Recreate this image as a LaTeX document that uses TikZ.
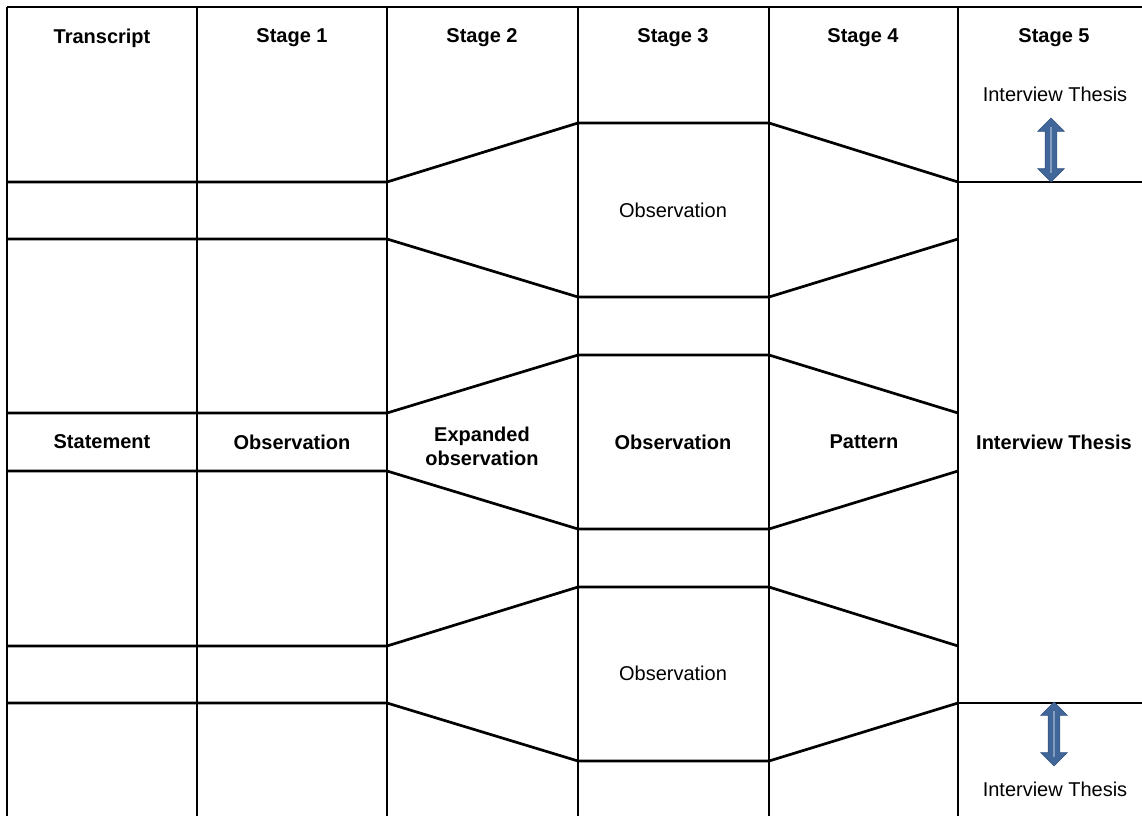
\documentclass[tikz,border=0pt]{standalone}
\usepackage{fontspec}
\setmainfont{Liberation Sans}
\usepackage{tikz}
\usetikzlibrary{shapes.arrows}
\usepackage{xcolor}
\definecolor{arrowblue}{RGB}{65,103,154}
\definecolor{arrowedge}{RGB}{52,84,128}

\begin{document}
\begin{tikzpicture}[x=1pt, y=-1pt, line width=2.7pt,
	head/.style = {font=\bfseries\fontsize{20}{24}\selectfont},
	txt/.style = {font=\fontsize{20}{24}\selectfont},
	updown/.style = {double arrow, rotate=90, fill=arrowblue, draw=arrowedge, line width=0.6pt,
		minimum height=64pt, inner xsep=0pt, inner ysep=5.5pt, double arrow head extend=7.5pt}]
	\useasboundingbox (0,0) rectangle (1142,816);
	% frame
	\draw[-] (7,7) -- (1142,7);
	\foreach \x in {7,197,387,578,769,958}
		\draw[-] (\x,7) -- (\x,816);
	% rows and slants
	\foreach \a/\b in {182/123, 239/297, 413/355, 471/529, 646/587, 703/761}
		\draw[-] (7,\a) -- (387,\a) -- (578,\b) -- (769,\b) -- (958,\a);
	\draw[-] (958,182) -- (1142,182);
	\draw[-] (958,703) -- (1142,703);
	% headers
	\node[head] (h0) at (102,38) {Transcript};
	\node[head] (h1) at (292,38) {Stage 1};
	\node[head] (h2) at (482,38) {Stage 2};
	\node[head] (h3) at (673,38) {Stage 3};
	\node[head] (h4) at (863,38) {Stage 4};
	\node[head] (h5) at (1054,38) {Stage 5};
	% middle row
	\node[head] (s0) at (102,442) {Statement};
	\node[head] (s1) at (292,442) {Observation};
	\node[head, align=center] (s2) at (482,446) {Expanded\\observation};
	\node[head] (s3) at (673,442) {Observation};
	\node[head] (s4) at (864,442) {Pattern};
	\node[head] (s5) at (1054,442) {Interview Thesis};
	% other observations
	\node[txt] (o1) at (673,210) {Observation};
	\node[txt] (o2) at (673,673) {Observation};
	\node[txt] (t1) at (1055,94) {Interview Thesis};
	\node[txt] (t2) at (1055,789) {Interview Thesis};
	% arrows
	\node[updown] (a1) at (1051,150) {};
	\node[updown] (a2) at (1054,734) {};
	\draw[white!35!arrowblue, line width=1.2pt, shorten <=9pt, shorten >=9pt] (a1.tip 1) -- (a1.tip 2);
	\draw[white!35!arrowblue, line width=1.2pt, shorten <=9pt, shorten >=9pt] (a2.tip 1) -- (a2.tip 2);
\end{tikzpicture}
\end{document}
